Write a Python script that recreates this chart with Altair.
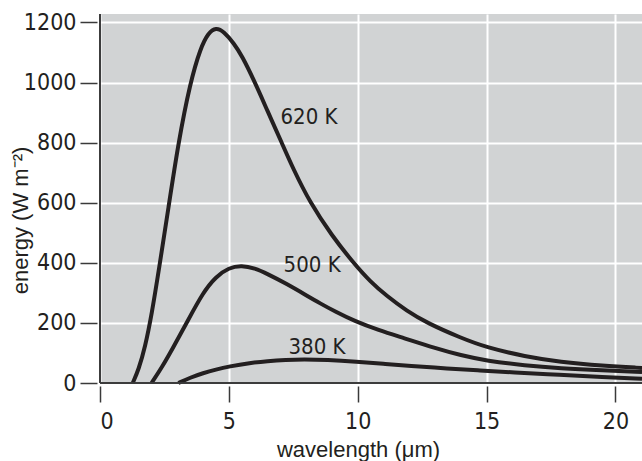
import altair as alt
import pandas as pd

# ---- data ----
x620 = [1.27, 1.5, 1.75, 2.0, 2.3, 2.65, 3.04, 3.5, 3.9, 4.2, 4.5, 4.8, 5.2, 5.5, 6.0, 6.5, 7.05,
        7.5, 8.15, 9.0, 9.83, 10.5, 11.12, 11.9, 12.68, 14.0, 15.0, 16.5, 17.85, 19.5, 21.03]
y620 = [0, 45, 120, 225, 385, 580, 800, 1000, 1115, 1165, 1183, 1170, 1130, 1090, 1003, 905, 800,
        712, 600, 490, 400, 336, 290, 240, 200, 150, 118, 88, 70, 57, 50]

x500 = [2.0, 2.4, 2.8, 3.36, 4.0, 4.5, 5.0, 5.5, 6.0, 6.5, 7.24, 8.0, 8.54, 9.12, 9.9, 10.8, 11.77,
        13.0, 14.0, 15.0, 16.5, 17.85, 19.5, 21.03]
y500 = [0, 52, 112, 200, 302, 354, 384, 391, 382, 363, 330, 292, 265, 238, 205, 176, 150,
        116, 92, 74, 58, 49, 42, 37]

x380 = [3.04, 3.5, 4.0, 4.5, 5.0, 5.82, 6.5, 7.2, 7.9, 8.8, 9.96, 11.0, 12.0, 13.5, 14.74, 16.0,
        17.85, 19.5, 21.03]
y380 = [0, 18, 33, 45, 55, 67, 73, 77, 79, 77, 71, 64, 57, 48, 42, 35, 27, 20, 14]

label_text = ["620 K", "500 K", "380 K"]
label_x = [8.11, 8.23, 8.42]
label_y = [885, 393, 120]

x_ticks = [0, 5, 10, 15, 20]
y_ticks = [0, 200, 400, 600, 800, 1000, 1200]

rows = []
for name, xs, ys in [("620 K", x620, y620), ("500 K", x500, y500), ("380 K", x380, y380)]:
    for a, b in zip(xs, ys):
        rows.append({"T": name, "wl": a, "E": b})
df = pd.DataFrame(rows)
labels = pd.DataFrame({"t": label_text, "wl": label_x, "E": label_y})

INK = "#231f20"
NARROW = "DejaVu Sans Condensed, Liberation Sans, sans-serif"
REG = "Liberation Sans, Arial, sans-serif"

xs = alt.Scale(domain=[0, 21.03], nice=False, zero=False)
ys = alt.Scale(domain=[0, 1228], nice=False, zero=False)

xaxis = alt.Axis(values=x_ticks, format="d", title="wavelength (μm)", offset=3, tickSize=16,
                 domain=False, grid=True, labelPadding=8, titleX=258, titleY=70,
                 titleAlign="center", titleBaseline="alphabetic")
yaxis = alt.Axis(values=y_ticks, format="d", title="energy (W m⁻²)", offset=3, tickSize=17,
                 domain=False, grid=True, labelPadding=4, titleX=-70, titleY=206,
                 titleAngle=270, titleAlign="center", titleBaseline="alphabetic")

lines = alt.Chart(df).mark_line(color=INK, strokeWidth=4, interpolate="basis").encode(
    x=alt.X("wl:Q", scale=xs, axis=xaxis),
    y=alt.Y("E:Q", scale=ys, axis=yaxis),
    detail="T:N",
)

text = alt.Chart(labels).mark_text(font=NARROW, fontSize=22, color=INK,
                                   align="center", baseline="middle").encode(
    x=alt.X("wl:Q", scale=xs), y=alt.Y("E:Q", scale=ys), text="t:N")

left_line = alt.Chart(labels).mark_rule(color="#3a3a3a", strokeWidth=1.5).encode(
    x=alt.datum(0))
bottom_line = alt.Chart(labels).mark_rule(color="#3a3a3a", strokeWidth=1.5).encode(
    y=alt.datum(0))

chart = alt.layer(lines, text, left_line, bottom_line).properties(
    width=542, height=369,
    autosize=alt.AutoSizeParams(type="none"),
    padding={"left": 100, "top": 14, "right": 0, "bottom": 78},
).configure_view(
    fill="#d1d3d4", stroke=None
).configure_axis(
    gridColor="white", gridWidth=2, gridOpacity=1,
    tickColor="#3a3a3a", tickWidth=1.5,
    labelFont=NARROW, labelFontSize=23, labelColor=INK,
    titleFont=REG, titleFontSize=22, titleColor=INK, titleFontWeight="normal",
)

chart.save("out.html", embed_options={"renderer": "svg", "actions": False})
